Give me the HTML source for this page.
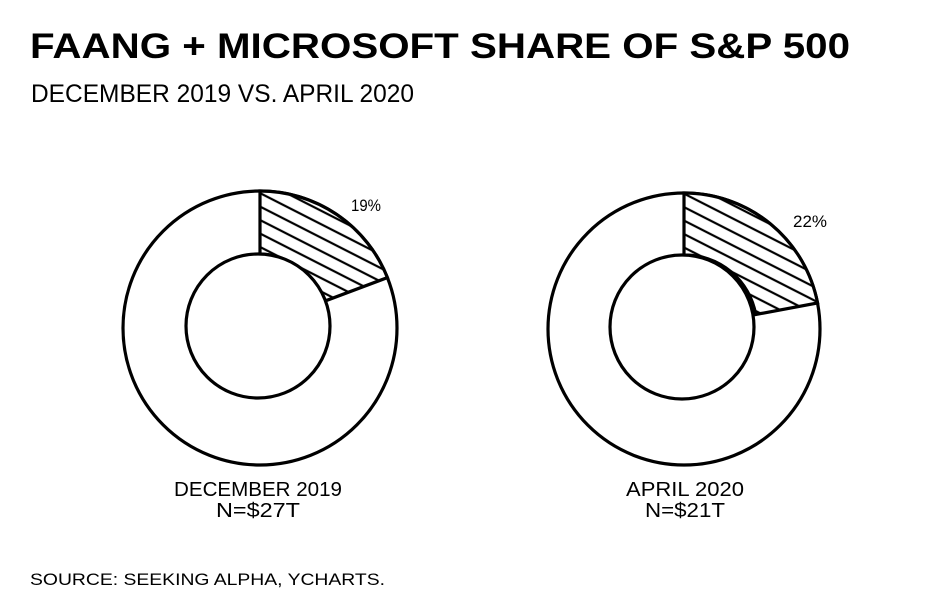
<!DOCTYPE html>
<html><head><meta charset="utf-8"><style>
html,body{margin:0;padding:0;background:#fff;}
svg{display:block;}
text{font-family:"Liberation Sans",sans-serif;fill:#000;}
</style></head><body>
<svg width="941" height="612" viewBox="0 0 941 612" xmlns="http://www.w3.org/2000/svg">
<defs>
<pattern id="h" patternUnits="userSpaceOnUse" width="12" height="12" patternTransform="rotate(27)">
<rect width="12" height="12" fill="#fff"/>
<line x1="0" y1="6" x2="12" y2="6" stroke="#000" stroke-width="2.2"/>
</pattern>
</defs>
<text x="30" y="58" font-size="35" font-weight="bold" textLength="820" lengthAdjust="spacingAndGlyphs">FAANG + MICROSOFT SHARE OF S&amp;P 500</text>
<text x="31" y="102" font-size="25" textLength="383" lengthAdjust="spacingAndGlyphs">DECEMBER 2019 VS. APRIL 2020</text>

<g stroke="#000" stroke-width="3.2" fill="none">
<circle cx="260" cy="328" r="137" fill="#fff"/>
<path d="M260,191 A137,137 0 0 1 387.4,277.6 L325,301 A72,72 0 0 0 260,254 Z" fill="url(#h)"/>
<circle cx="258" cy="326" r="72" fill="#fff"/>

<circle cx="684" cy="329" r="136" fill="#fff"/>
<path d="M684,193 A136,136 0 0 1 817.6,303 L755.7,314.5 A72,72 0 0 0 684,255 Z" fill="url(#h)"/>
<circle cx="682" cy="327" r="72" fill="#fff"/>
</g>

<text x="351" y="211" font-size="17" textLength="30" lengthAdjust="spacingAndGlyphs">19%</text>
<text x="793" y="227" font-size="17" textLength="34" lengthAdjust="spacingAndGlyphs">22%</text>

<text x="258" y="496" font-size="20" text-anchor="middle" textLength="168" lengthAdjust="spacingAndGlyphs">DECEMBER 2019</text>
<text x="258" y="517" font-size="20" text-anchor="middle" textLength="84" lengthAdjust="spacingAndGlyphs">N=$27T</text>
<text x="685" y="496" font-size="20" text-anchor="middle" textLength="118" lengthAdjust="spacingAndGlyphs">APRIL 2020</text>
<text x="685" y="517" font-size="20" text-anchor="middle" textLength="80" lengthAdjust="spacingAndGlyphs">N=$21T</text>

<text x="30" y="585" font-size="17" textLength="355" lengthAdjust="spacingAndGlyphs">SOURCE: SEEKING ALPHA, YCHARTS.</text>
</svg>
</body></html>
